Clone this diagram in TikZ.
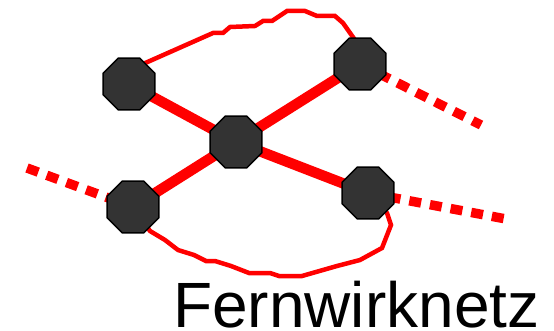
\documentclass[tikz,border=0pt]{standalone}
\usepackage{fontspec}
\setmainfont{Liberation Sans}
\usetikzlibrary{shapes.geometric,backgrounds}
\definecolor{octgray}{HTML}{333333}
\begin{document}
\begin{tikzpicture}[x=1pt,y=-1pt,
  oct/.style={regular polygon, regular polygon sides=8, minimum size=56pt, inner sep=0pt, fill=octgray, draw=black, line width=1.5pt},
  trunk/.style={red, line width=10.5pt},
  ring/.style={red, line width=4.5pt, line join=miter},
  ext/.style={red, line width=9.5pt, dash pattern=on 12pt off 9pt}]
\useasboundingbox (0,0) rectangle (554,331);
% nodes
\node[oct] (A) at (129,84) {};
\node[oct] (B) at (360,64) {};
\node[oct] (C) at (236,142) {};
\node[oct] (D) at (133,207) {};
\node[oct] (E) at (368,193) {};
\coordinate (dl) at (27,168);
\coordinate (br) at (481,125);
\coordinate (er) at (506,219);
\node[anchor=base west, inner sep=0pt, font=\fontsize{64}{64}\selectfont] (title) at (173,327) {Fernwirknetz};
\begin{pgfonlayer}{background}
  \draw[trunk] (A.center) -- (C.center);
  \draw[trunk] (C.center) -- (B.center);
  \draw[trunk] (C.center) -- (D.center);
  \draw[trunk] (C.center) -- (E.center);
  \draw[ext] (dl) -- (D.center);
  \draw[ext] (B.center) -- (br);
  \draw[ext] (E.center) -- (er);
  \draw[ring] (A.center) -- (143,64) -- (213,33) -- (223,33) -- (230,27) -- (255,26) -- (263,21) -- (272,21)
     -- (287,11) -- (305,11) -- (317,16) -- (335,16) -- (343,23) -- (355,40) -- (B.center);
  \draw[ring] (D.center) -- (150,231) -- (165,240) -- (178,250) -- (194,255) -- (206,261) -- (215,261)
     -- (231,266) -- (249,273) -- (270,273) -- (279,276) -- (302,276) -- (337,266) -- (360,260)
     -- (382,248) -- (391,225) -- (387,213) -- (E.center);
\end{pgfonlayer}
\end{tikzpicture}
\end{document}
